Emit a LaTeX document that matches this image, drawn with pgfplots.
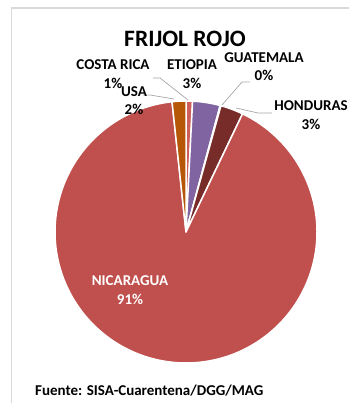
\documentclass[border=0pt]{standalone}
\usepackage{fontspec}
\setmainfont{Carlito}
\usepackage{pgfplots}
\pgfplotsset{compat=1.18}
\definecolor{nic}{HTML}{C0504D}
\definecolor{eti}{HTML}{8064A2}
\definecolor{hon}{HTML}{772C2A}
\definecolor{usa}{HTML}{B65708}
\definecolor{cri}{HTML}{CF5F5A}
\definecolor{gua}{HTML}{9BBB59}
\definecolor{lead}{HTML}{A6A6A6}
\definecolor{frame}{HTML}{D9D9D9}
\begin{document}
\begin{tikzpicture}[x=1pt,y=1pt]
\path[use as bounding box] (0,0) rectangle (349,403);
\draw[color=frame, line width=1.5pt] (11.5,0) -- (11.5,395) -- (349,395);
\coordinate (pc) at (186,171);
% shares in percent (clockwise from 12 o'clock)
\def\vCR{0.8}
\def\vET{3.4}
\def\vGU{0.1}
\def\vHO{2.8}
\def\vNI{91.2}
\def\vUS{1.7}
\pgfmathsetmacro\aA{90}
\pgfmathsetmacro\aB{\aA-3.6*\vCR}
\pgfmathsetmacro\aC{\aB-3.6*\vET}
\pgfmathsetmacro\aD{\aC-3.6*\vGU}
\pgfmathsetmacro\aE{\aD-3.6*\vHO}
\pgfmathsetmacro\aF{\aE-3.6*\vNI}
\pgfmathsetmacro\aG{\aF-3.6*\vUS}
\begin{axis}[at={(pc)}, anchor=center, scale only axis,
  x=131pt, y=131pt, xmin=-1, xmax=1, ymin=-1, ymax=1,
  hide axis, clip=false]
\addplot[fill=cri, draw=white, line width=1.5pt, line join=round, data cs=polar, domain=\aB:\aA, samples=6] {1} -- (axis cs:0,0) -- cycle;
\addplot[fill=eti, draw=white, line width=1.5pt, line join=round, data cs=polar, domain=\aC:\aB, samples=15] {1} -- (axis cs:0,0) -- cycle;
\addplot[fill=gua, draw=white, line width=1.5pt, line join=round, data cs=polar, domain=\aD:\aC, samples=3] {1} -- (axis cs:0,0) -- cycle;
\addplot[fill=hon, draw=white, line width=1.5pt, line join=round, data cs=polar, domain=\aE:\aD, samples=12] {1} -- (axis cs:0,0) -- cycle;
\addplot[fill=nic, draw=white, line width=1.5pt, line join=round, data cs=polar, domain=\aF:\aE, samples=200] {1} -- (axis cs:0,0) -- cycle;
\addplot[fill=usa, draw=white, line width=1.5pt, line join=round, data cs=polar, domain=\aG:\aF, samples=8] {1} -- (axis cs:0,0) -- cycle;
\end{axis}
% leader lines
\draw[lead, line width=0.7pt] (153,325) -- (160,325) -- (188,303);
\draw[lead, line width=0.7pt] (143,308) -- (150,308) -- (174,304);
\draw[lead, line width=0.7pt] (250,321) -- (242,321) -- (222,298);
\draw[lead, line width=0.7pt] (272,290) -- (258,290) -- (236,295);
% title and labels
\node[font=\fontsize{23.5}{28}\selectfont\bfseries] at (185,364) {FRIJOL ROJO};
\tikzset{lab/.style={font=\fontsize{15}{18.5}\selectfont\bfseries, align=center, inner sep=0pt}}
\node[lab] at (113,329) {COSTA RICA\\1\%};
\node[lab] at (134,302.5) {USA\\2\%};
\node[lab] at (192,329) {ETIOPIA\\3\%};
\node[lab] at (264,336.5) {GUATEMALA\\0\%};
\node[lab] at (311,288) {HONDURAS\\3\%};
\node[lab, text=white] at (130,113) {NICARAGUA\\91\%};
\node[font=\fontsize{15}{18}\selectfont\bfseries, anchor=west, inner sep=0pt] at (35,12) {Fuente: SISA-Cuarentena/DGG/MAG};
\end{tikzpicture}
\end{document}
